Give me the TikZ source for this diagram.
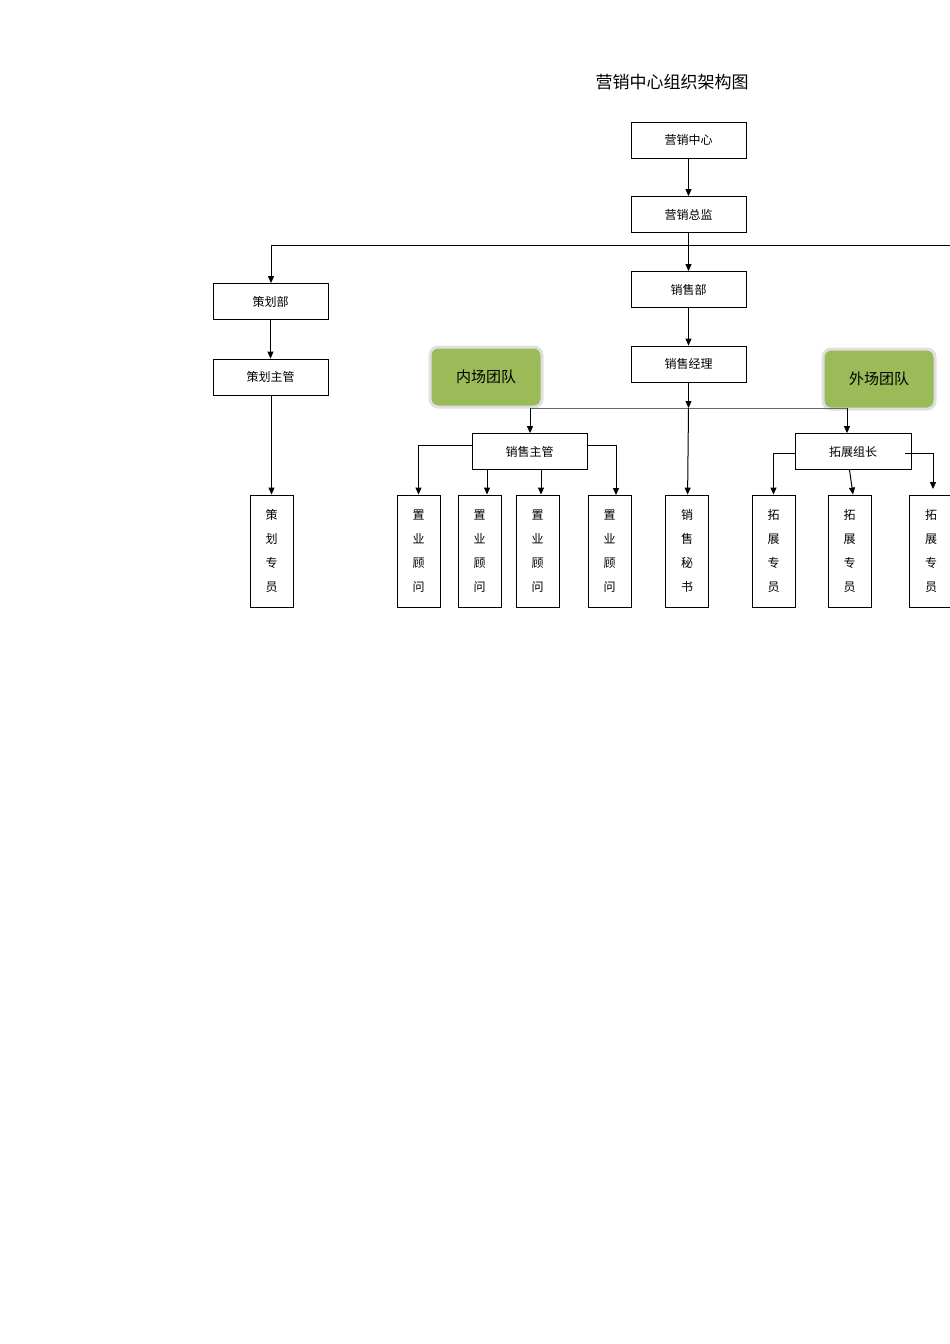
\documentclass[tikz,border=0pt]{standalone}
\usepackage{fontspec}
\setmainfont{Noto Sans CJK SC}
\usetikzlibrary{arrows.meta}
\begin{document}
\begin{tikzpicture}[x=1pt,y=-1pt,
 box/.style={draw,line width=0.8pt,minimum width=115pt,minimum height=36pt,inner sep=0pt,font=\fontsize{12}{14}\selectfont},
 vbox/.style={draw,line width=0.9pt,minimum width=43pt,minimum height=112pt,inner sep=0pt,align=center,font=\fontsize{12}{24}\selectfont},
 team/.style={draw=black!12,line width=3pt,fill=green!45!olive!60!white,rounded corners=8pt,minimum width=112pt,minimum height=60pt,font=\fontsize{15}{17}\selectfont},
 arr/.style={line width=1pt,-{Triangle[length=7pt,width=6pt]}},
 ln/.style={line width=1pt}]
\useasboundingbox (0,0) rectangle (950,1344);
\node[font=\fontsize{17}{20}\selectfont] (title) at (672,82) {营销中心组织架构图};
\node[box] (zx) at (688.5,140) {营销中心};
\node[box] (zj) at (688.5,214.5) {营销总监};
\node[box] (xsb) at (688.5,289.5) {销售部};
\node[box] (xsjl) at (688.5,364) {销售经理};
\node[box] (chb) at (270.5,301.5) {策划部};
\node[box] (chzg) at (270.5,377) {策划主管};
\node[vbox] (chzy) at (271.5,551) {策\\划\\专\\员};
\node[team,fill={rgb,255:red,155;green,187;blue,89}] (nc) at (486,377) {内场团队};
\node[team,fill={rgb,255:red,155;green,187;blue,89}] (wc) at (879,379) {外场团队};
\node[box] (xszg) at (529.5,451.5) {销售主管};
\node[box,minimum width=116pt] (tzzz) at (853,451.5) {拓展组长};
\node[vbox] (g1) at (418.5,551) {置\\业\\顾\\问};
\node[vbox] (g2) at (479.5,551) {置\\业\\顾\\问};
\node[vbox] (g3) at (537.5,551) {置\\业\\顾\\问};
\node[vbox] (g4) at (609.5,551) {置\\业\\顾\\问};
\node[vbox] (ms) at (687,551) {销\\售\\秘\\书};
\node[vbox] (t1) at (773.5,551) {拓\\展\\专\\员};
\node[vbox] (t2) at (849.5,551) {拓\\展\\专\\员};
\node[vbox] (t3) at (931,551) {拓\\展\\专\\员};
\coordinate (hl) at (271,245);
\coordinate (hr) at (950,245);
\coordinate (ml) at (530,408);
\coordinate (mr) at (847,408);
\coordinate (mc) at (688.5,408);
\draw[arr] (zx) -- (zj);
\draw[ln] (hl) -- (hr);
\draw[arr] (hl) -- (chb.north -| hl);
\draw[arr] (zj) -- (xsb);
\draw[arr] (xsb) -- (xsjl);
\draw[arr] (chb) -- (chzg);
\draw[arr] (chzg.south -| chzy) -- (chzy);
\draw[ln,black!60] (ml) -- (mr);
\draw[arr] (xsjl) -- (mc);
\draw[arr] (mc) -- (ms);
\draw[arr] (ml) -- (xszg.north -| ml);
\draw[arr] (mr) -- (tzzz.north -| mr);
\draw[arr] (xszg.west |- 0,445) -| (g1.north);
\draw[arr] (xszg.east |- 0,445) -| (616,495);
\draw[arr] (xszg.south -| 487,0) -- (g2.north -| 487,0);
\draw[arr] (xszg.south -| 541,0) -- (g3.north -| 541,0);
\draw[arr] (tzzz.west |- 0,453) -| (t1.north);
\draw[arr] (905,453) -| (933,489);
\draw[arr] (tzzz.south -| t2) -- (t2.north -| 853,0);
\end{tikzpicture}
\end{document}
